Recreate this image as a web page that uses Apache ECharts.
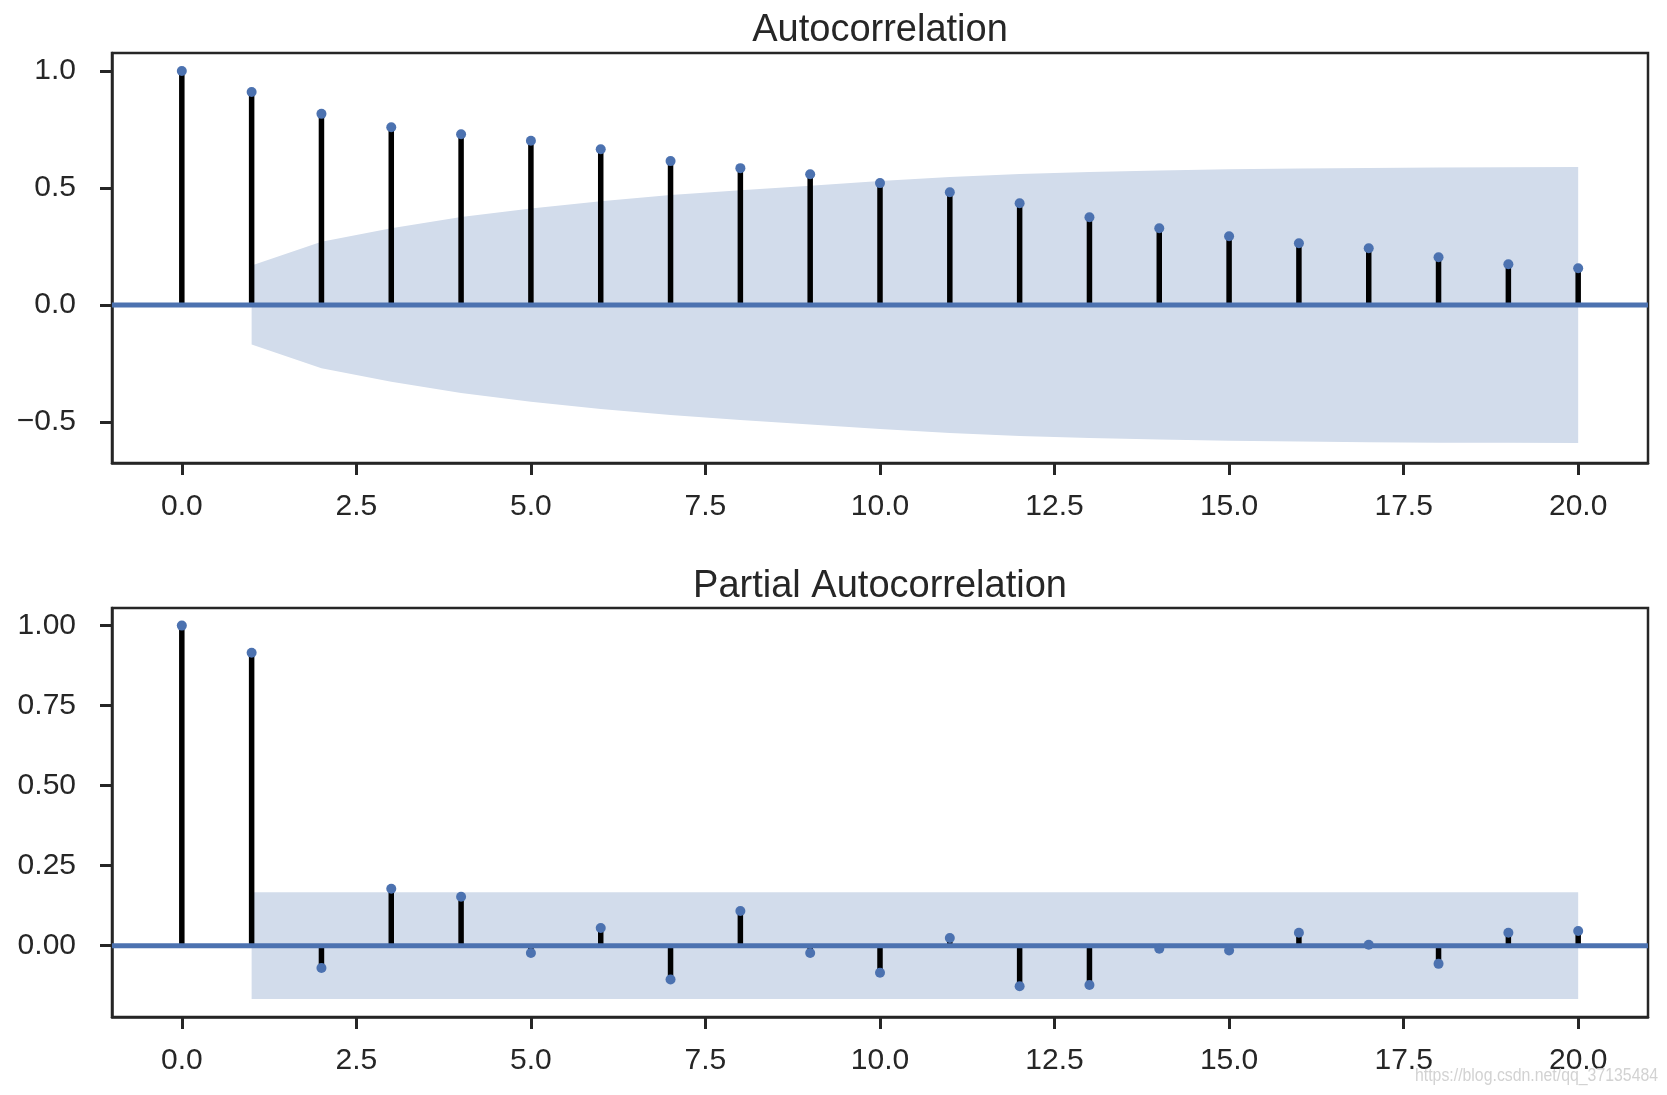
<!DOCTYPE html>
<html><head><meta charset="utf-8">
<script src="https://cdn.jsdelivr.net/npm/echarts@6/dist/echarts.min.js"></script>
<style>html,body{margin:0;padding:0;background:#fff}#chart{width:1667px;height:1095px}</style>
</head><body><div id="chart"></div>
<script>
// ---- data ----
const lags = [0,1,2,3,4,5,6,7,8,9,10,11,12,13,14,15,16,17,18,19,20];
const acfValues = [1.0, 0.910, 0.817, 0.760, 0.730, 0.702, 0.666, 0.615, 0.585, 0.559, 0.521,
                   0.482, 0.435, 0.375, 0.328, 0.294, 0.264, 0.243, 0.204, 0.174, 0.157];
const bandLags = [1,2,3,4,5,6,7,8,9,10,11,12,13,14,15,16,17,18,19,20];
const acfBand = [0.169, 0.270, 0.328, 0.376, 0.413, 0.444, 0.470, 0.491, 0.510, 0.530,
                 0.547, 0.560, 0.568, 0.575, 0.580, 0.583, 0.586, 0.588, 0.589, 0.590];
const pacfValues = [1.0, 0.915, -0.070, 0.178, 0.153, -0.023, 0.055, -0.106, 0.108, -0.023, -0.085,
                    0.024, -0.127, -0.123, -0.010, -0.015, 0.040, 0.003, -0.057, 0.040, 0.046];
const pacfBand = [0.167, 0.167, 0.167, 0.167, 0.167, 0.167, 0.167, 0.167, 0.167, 0.167,
                  0.167, 0.167, 0.167, 0.167, 0.167, 0.167, 0.167, 0.167, 0.167, 0.167];
const xTicks = [0, 2.5, 5, 7.5, 10, 12.5, 15, 17.5, 20];
const acfYTicks = [-0.5, 0, 0.5, 1.0];
const pacfYTicks = [0, 0.25, 0.5, 0.75, 1.0];
const titles = ['Autocorrelation', 'Partial Autocorrelation'];
const watermark = 'https://blog.csdn.net/qq_37135484';

// ---- styling ----
const FONT = "'Liberation Sans', Arial, sans-serif";
const INK = '#262626';
const BLUE = '#4C72B0';
const BAND = '#D2DCEB';

function fmt(v, d) {
  return v.toFixed(d).replace('-', '\u2212');
}
function xAxis(gi) {
  return {
    type: 'value', gridIndex: gi, min: -1, max: 21,
    splitLine: {show: false},
    axisLine: {show: true, onZero: false, lineStyle: {color: INK, width: 2.5}},
    axisTick: {show: true, length: 12, customValues: xTicks, lineStyle: {color: INK, width: 3}},
    axisLabel: {customValues: xTicks, formatter: v => fmt(v, 1), fontSize: 30, color: INK,
                margin: 29, fontFamily: FONT}
  };
}
function yAxis(gi, min, max, ticks, dec) {
  return {
    type: 'value', gridIndex: gi, min: min, max: max,
    splitLine: {show: false},
    axisLine: {show: true, onZero: false, lineStyle: {color: INK, width: 2.5}},
    axisTick: {show: true, length: 12, customValues: ticks, lineStyle: {color: INK, width: 3}},
    axisLabel: {customValues: ticks, formatter: v => fmt(v, dec), fontSize: 30, color: INK,
                margin: 36, fontFamily: FONT}
  };
}
function plotSeries(gi, values, band) {
  const upper = bandLags.map((l, i) => [l, band[i]]);
  const lower = bandLags.map((l, i) => [l, -band[i]]);
  const pts = lags.map((l, i) => [l, values[i]]);
  return [
    {type: 'line', xAxisIndex: gi, yAxisIndex: gi, data: upper, symbol: 'none', silent: true,
     lineStyle: {width: 0}, areaStyle: {color: BAND, opacity: 1}, z: 1},
    {type: 'line', xAxisIndex: gi, yAxisIndex: gi, data: lower, symbol: 'none', silent: true,
     lineStyle: {width: 0}, areaStyle: {color: BAND, opacity: 1}, z: 1},
    {type: 'bar', xAxisIndex: gi, yAxisIndex: gi, data: pts, barWidth: 5.5,
     itemStyle: {color: '#000'}, z: 2},
    {type: 'line', xAxisIndex: gi, yAxisIndex: gi, data: [[-1, 0], [21, 0]], symbol: 'none',
     lineStyle: {color: BLUE, width: 5}, z: 3},
    {type: 'scatter', xAxisIndex: gi, yAxisIndex: gi, data: pts, symbolSize: 10,
     itemStyle: {color: BLUE, opacity: 1}, z: 4}
  ];
}

const chart = echarts.init(document.getElementById('chart'), null, {renderer: 'canvas'});
chart.setOption({
  animation: false,
  backgroundColor: '#fff',
  title: [
    {text: titles[0], left: 880, top: 12, textAlign: 'center', padding: 0,
     textStyle: {fontSize: 38, fontWeight: 'normal', color: INK, fontFamily: FONT}},
    {text: titles[1], left: 880, top: 568, textAlign: 'center', padding: 0,
     textStyle: {fontSize: 38, fontWeight: 'normal', color: INK, fontFamily: FONT}}
  ],
  grid: [
    {left: 112, top: 53, width: 1536, height: 410, show: true, borderColor: INK, borderWidth: 2.5,
     backgroundColor: 'transparent'},
    {left: 112, top: 608, width: 1536, height: 409, show: true, borderColor: INK, borderWidth: 2.5,
     backgroundColor: 'transparent'}
  ],
  xAxis: [xAxis(0), xAxis(1)],
  yAxis: [yAxis(0, -0.675, 1.077, acfYTicks, 1), yAxis(1, -0.223, 1.055, pacfYTicks, 2)],
  series: plotSeries(0, acfValues, acfBand).concat(plotSeries(1, pacfValues, pacfBand)),
  graphic: [
    {type: 'text', x: 1415, y: 1067, scaleX: 0.88, z: 100, silent: true,
     style: {text: watermark, fontSize: 18, fill: 'rgba(205,205,205,0.9)',
             fontFamily: "'Liberation Sans', sans-serif"}}
  ]
});
</script>
</body></html>
